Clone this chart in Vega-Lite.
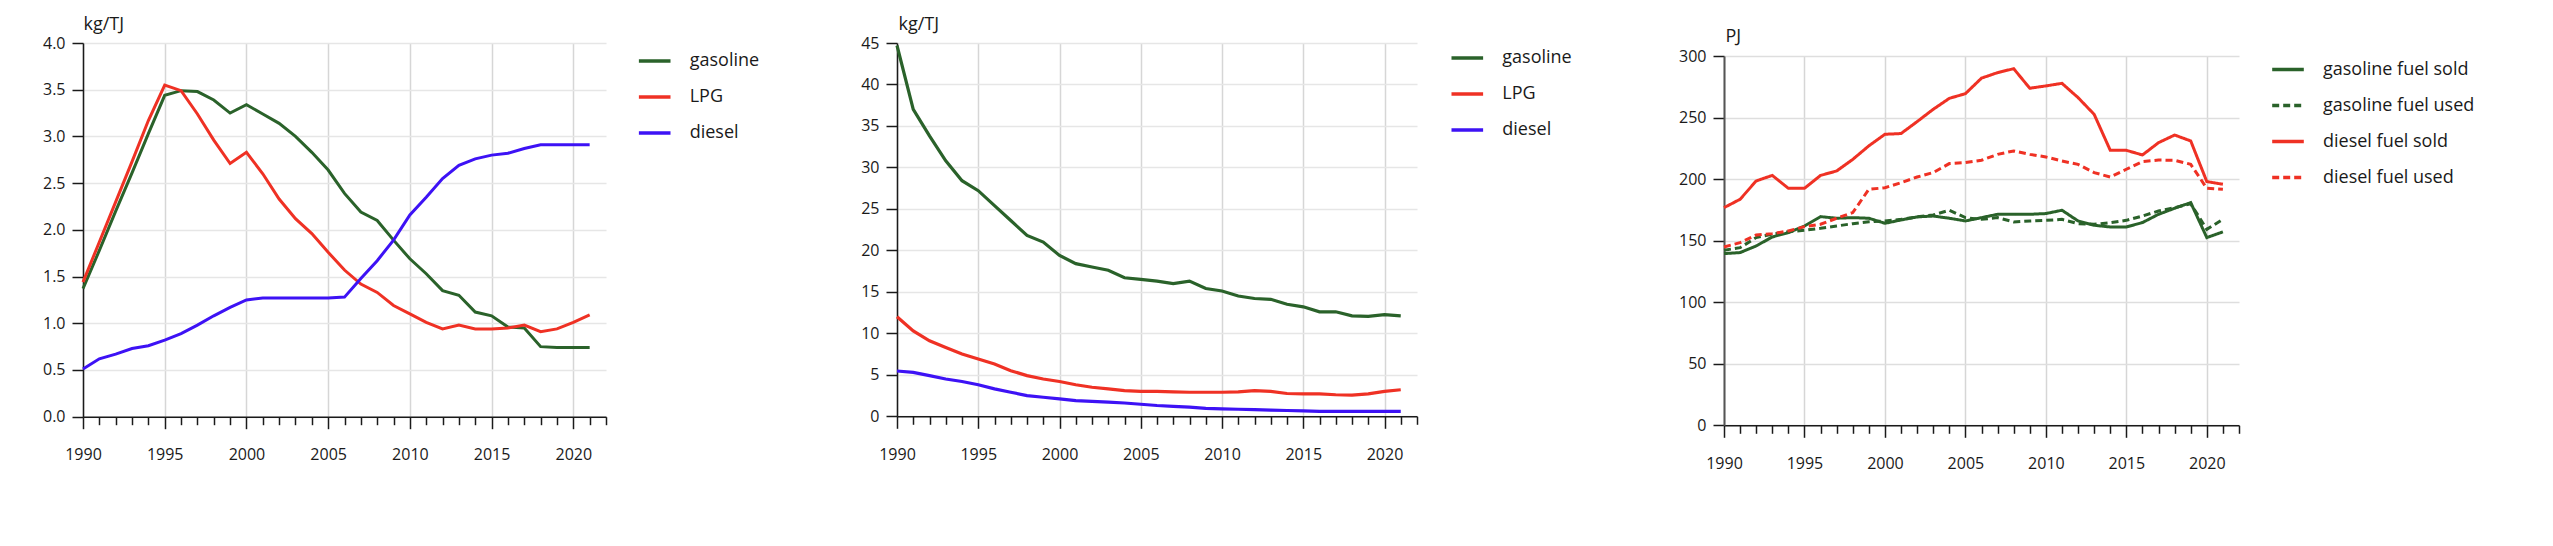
{
"$schema": "https://vega.github.io/schema/vega-lite/v6.json",
"background": "white",
"padding": {"left": 42, "top": 15, "right": 5, "bottom": 5},
"spacing": 0,
"bounds": "flush",
"resolve": {"scale": {"color": "independent", "strokeDash": "independent"}, "legend": {"color": "independent", "strokeDash": "independent"}},
"config": {
  "font": "Open Sans",
  "view": {"stroke": null},
  "axis": {"labelFont": "Open Sans", "labelFontSize": 16, "labelColor": "#1a1a1a", "titleFont": "Open Sans", "titleFontSize": 18, "titleFontWeight": "normal", "titleColor": "#1a1a1a", "domainColor": "#1a1a1a", "domainWidth": 1.5, "tickColor": "#1a1a1a", "tickWidth": 1.5},
  "legend": {"labelFont": "Open Sans", "labelFontSize": 18, "labelColor": "#1a1a1a", "symbolType": "stroke", "symbolSize": 1000, "symbolStrokeWidth": 3.5, "labelOffset": 17, "rowPadding": 9, "padding": 0, "orient": "none", "title": null}
},
"datasets": {
"p1": [
{"year":1990,"fuel":"gasoline","value":1.37},{"year":1991,"fuel":"gasoline","value":1.78},{"year":1992,"fuel":"gasoline","value":2.2},{"year":1993,"fuel":"gasoline","value":2.61},{"year":1994,"fuel":"gasoline","value":3.03},{"year":1995,"fuel":"gasoline","value":3.44},{"year":1996,"fuel":"gasoline","value":3.49},{"year":1997,"fuel":"gasoline","value":3.48},{"year":1998,"fuel":"gasoline","value":3.39},{"year":1999,"fuel":"gasoline","value":3.25},{"year":2000,"fuel":"gasoline","value":3.34},{"year":2001,"fuel":"gasoline","value":3.24},{"year":2002,"fuel":"gasoline","value":3.14},{"year":2003,"fuel":"gasoline","value":3.0},{"year":2004,"fuel":"gasoline","value":2.83},{"year":2005,"fuel":"gasoline","value":2.64},{"year":2006,"fuel":"gasoline","value":2.39},{"year":2007,"fuel":"gasoline","value":2.19},{"year":2008,"fuel":"gasoline","value":2.1},{"year":2009,"fuel":"gasoline","value":1.89},{"year":2010,"fuel":"gasoline","value":1.69},{"year":2011,"fuel":"gasoline","value":1.53},{"year":2012,"fuel":"gasoline","value":1.35},{"year":2013,"fuel":"gasoline","value":1.3},{"year":2014,"fuel":"gasoline","value":1.12},{"year":2015,"fuel":"gasoline","value":1.08},{"year":2016,"fuel":"gasoline","value":0.96},{"year":2017,"fuel":"gasoline","value":0.95},{"year":2018,"fuel":"gasoline","value":0.75},{"year":2019,"fuel":"gasoline","value":0.74},{"year":2020,"fuel":"gasoline","value":0.74},{"year":2021,"fuel":"gasoline","value":0.74},
{"year":1990,"fuel":"LPG","value":1.44},{"year":1991,"fuel":"LPG","value":1.87},{"year":1992,"fuel":"LPG","value":2.3},{"year":1993,"fuel":"LPG","value":2.73},{"year":1994,"fuel":"LPG","value":3.17},{"year":1995,"fuel":"LPG","value":3.55},{"year":1996,"fuel":"LPG","value":3.49},{"year":1997,"fuel":"LPG","value":3.24},{"year":1998,"fuel":"LPG","value":2.96},{"year":1999,"fuel":"LPG","value":2.71},{"year":2000,"fuel":"LPG","value":2.83},{"year":2001,"fuel":"LPG","value":2.6},{"year":2002,"fuel":"LPG","value":2.33},{"year":2003,"fuel":"LPG","value":2.12},{"year":2004,"fuel":"LPG","value":1.96},{"year":2005,"fuel":"LPG","value":1.76},{"year":2006,"fuel":"LPG","value":1.57},{"year":2007,"fuel":"LPG","value":1.42},{"year":2008,"fuel":"LPG","value":1.33},{"year":2009,"fuel":"LPG","value":1.19},{"year":2010,"fuel":"LPG","value":1.1},{"year":2011,"fuel":"LPG","value":1.01},{"year":2012,"fuel":"LPG","value":0.94},{"year":2013,"fuel":"LPG","value":0.98},{"year":2014,"fuel":"LPG","value":0.94},{"year":2015,"fuel":"LPG","value":0.94},{"year":2016,"fuel":"LPG","value":0.95},{"year":2017,"fuel":"LPG","value":0.98},{"year":2018,"fuel":"LPG","value":0.91},{"year":2019,"fuel":"LPG","value":0.94},{"year":2020,"fuel":"LPG","value":1.01},{"year":2021,"fuel":"LPG","value":1.09},
{"year":1990,"fuel":"diesel","value":0.51},{"year":1991,"fuel":"diesel","value":0.62},{"year":1992,"fuel":"diesel","value":0.67},{"year":1993,"fuel":"diesel","value":0.73},{"year":1994,"fuel":"diesel","value":0.76},{"year":1995,"fuel":"diesel","value":0.82},{"year":1996,"fuel":"diesel","value":0.89},{"year":1997,"fuel":"diesel","value":0.98},{"year":1998,"fuel":"diesel","value":1.08},{"year":1999,"fuel":"diesel","value":1.17},{"year":2000,"fuel":"diesel","value":1.25},{"year":2001,"fuel":"diesel","value":1.27},{"year":2002,"fuel":"diesel","value":1.27},{"year":2003,"fuel":"diesel","value":1.27},{"year":2004,"fuel":"diesel","value":1.27},{"year":2005,"fuel":"diesel","value":1.27},{"year":2006,"fuel":"diesel","value":1.28},{"year":2007,"fuel":"diesel","value":1.48},{"year":2008,"fuel":"diesel","value":1.67},{"year":2009,"fuel":"diesel","value":1.89},{"year":2010,"fuel":"diesel","value":2.16},{"year":2011,"fuel":"diesel","value":2.35},{"year":2012,"fuel":"diesel","value":2.55},{"year":2013,"fuel":"diesel","value":2.69},{"year":2014,"fuel":"diesel","value":2.76},{"year":2015,"fuel":"diesel","value":2.8},{"year":2016,"fuel":"diesel","value":2.82},{"year":2017,"fuel":"diesel","value":2.87},{"year":2018,"fuel":"diesel","value":2.91},{"year":2019,"fuel":"diesel","value":2.91},{"year":2020,"fuel":"diesel","value":2.91},{"year":2021,"fuel":"diesel","value":2.91}
],
"p2": [
{"year":1990,"fuel":"gasoline","value":44.7},{"year":1991,"fuel":"gasoline","value":37.0},{"year":1992,"fuel":"gasoline","value":33.8},{"year":1993,"fuel":"gasoline","value":30.8},{"year":1994,"fuel":"gasoline","value":28.4},{"year":1995,"fuel":"gasoline","value":27.2},{"year":1996,"fuel":"gasoline","value":25.4},{"year":1997,"fuel":"gasoline","value":23.6},{"year":1998,"fuel":"gasoline","value":21.8},{"year":1999,"fuel":"gasoline","value":21.0},{"year":2000,"fuel":"gasoline","value":19.4},{"year":2001,"fuel":"gasoline","value":18.4},{"year":2002,"fuel":"gasoline","value":18.0},{"year":2003,"fuel":"gasoline","value":17.6},{"year":2004,"fuel":"gasoline","value":16.7},{"year":2005,"fuel":"gasoline","value":16.5},{"year":2006,"fuel":"gasoline","value":16.3},{"year":2007,"fuel":"gasoline","value":16.0},{"year":2008,"fuel":"gasoline","value":16.3},{"year":2009,"fuel":"gasoline","value":15.4},{"year":2010,"fuel":"gasoline","value":15.1},{"year":2011,"fuel":"gasoline","value":14.5},{"year":2012,"fuel":"gasoline","value":14.2},{"year":2013,"fuel":"gasoline","value":14.1},{"year":2014,"fuel":"gasoline","value":13.5},{"year":2015,"fuel":"gasoline","value":13.2},{"year":2016,"fuel":"gasoline","value":12.6},{"year":2017,"fuel":"gasoline","value":12.6},{"year":2018,"fuel":"gasoline","value":12.1},{"year":2019,"fuel":"gasoline","value":12.05},{"year":2020,"fuel":"gasoline","value":12.25},{"year":2021,"fuel":"gasoline","value":12.1},
{"year":1990,"fuel":"LPG","value":12.0},{"year":1991,"fuel":"LPG","value":10.3},{"year":1992,"fuel":"LPG","value":9.1},{"year":1993,"fuel":"LPG","value":8.3},{"year":1994,"fuel":"LPG","value":7.5},{"year":1995,"fuel":"LPG","value":6.9},{"year":1996,"fuel":"LPG","value":6.3},{"year":1997,"fuel":"LPG","value":5.5},{"year":1998,"fuel":"LPG","value":4.9},{"year":1999,"fuel":"LPG","value":4.5},{"year":2000,"fuel":"LPG","value":4.2},{"year":2001,"fuel":"LPG","value":3.8},{"year":2002,"fuel":"LPG","value":3.5},{"year":2003,"fuel":"LPG","value":3.3},{"year":2004,"fuel":"LPG","value":3.1},{"year":2005,"fuel":"LPG","value":3.0},{"year":2006,"fuel":"LPG","value":3.0},{"year":2007,"fuel":"LPG","value":2.95},{"year":2008,"fuel":"LPG","value":2.9},{"year":2009,"fuel":"LPG","value":2.9},{"year":2010,"fuel":"LPG","value":2.9},{"year":2011,"fuel":"LPG","value":2.95},{"year":2012,"fuel":"LPG","value":3.1},{"year":2013,"fuel":"LPG","value":3.0},{"year":2014,"fuel":"LPG","value":2.75},{"year":2015,"fuel":"LPG","value":2.7},{"year":2016,"fuel":"LPG","value":2.7},{"year":2017,"fuel":"LPG","value":2.6},{"year":2018,"fuel":"LPG","value":2.55},{"year":2019,"fuel":"LPG","value":2.7},{"year":2020,"fuel":"LPG","value":3.0},{"year":2021,"fuel":"LPG","value":3.2},
{"year":1990,"fuel":"diesel","value":5.46},{"year":1991,"fuel":"diesel","value":5.3},{"year":1992,"fuel":"diesel","value":4.9},{"year":1993,"fuel":"diesel","value":4.5},{"year":1994,"fuel":"diesel","value":4.2},{"year":1995,"fuel":"diesel","value":3.8},{"year":1996,"fuel":"diesel","value":3.3},{"year":1997,"fuel":"diesel","value":2.9},{"year":1998,"fuel":"diesel","value":2.5},{"year":1999,"fuel":"diesel","value":2.3},{"year":2000,"fuel":"diesel","value":2.1},{"year":2001,"fuel":"diesel","value":1.9},{"year":2002,"fuel":"diesel","value":1.8},{"year":2003,"fuel":"diesel","value":1.7},{"year":2004,"fuel":"diesel","value":1.6},{"year":2005,"fuel":"diesel","value":1.45},{"year":2006,"fuel":"diesel","value":1.3},{"year":2007,"fuel":"diesel","value":1.2},{"year":2008,"fuel":"diesel","value":1.1},{"year":2009,"fuel":"diesel","value":0.95},{"year":2010,"fuel":"diesel","value":0.9},{"year":2011,"fuel":"diesel","value":0.85},{"year":2012,"fuel":"diesel","value":0.8},{"year":2013,"fuel":"diesel","value":0.75},{"year":2014,"fuel":"diesel","value":0.7},{"year":2015,"fuel":"diesel","value":0.65},{"year":2016,"fuel":"diesel","value":0.6},{"year":2017,"fuel":"diesel","value":0.6},{"year":2018,"fuel":"diesel","value":0.6},{"year":2019,"fuel":"diesel","value":0.6},{"year":2020,"fuel":"diesel","value":0.6},{"year":2021,"fuel":"diesel","value":0.6}
],
"p3": [
{"year":1990,"fuel":"gasoline fuel sold","value":139.5},{"year":1991,"fuel":"gasoline fuel sold","value":140.3},{"year":1992,"fuel":"gasoline fuel sold","value":145.7},{"year":1993,"fuel":"gasoline fuel sold","value":153},{"year":1994,"fuel":"gasoline fuel sold","value":156.5},{"year":1995,"fuel":"gasoline fuel sold","value":161.9},{"year":1996,"fuel":"gasoline fuel sold","value":169.5},{"year":1997,"fuel":"gasoline fuel sold","value":168.2},{"year":1998,"fuel":"gasoline fuel sold","value":168.7},{"year":1999,"fuel":"gasoline fuel sold","value":168.2},{"year":2000,"fuel":"gasoline fuel sold","value":164.1},{"year":2001,"fuel":"gasoline fuel sold","value":166.8},{"year":2002,"fuel":"gasoline fuel sold","value":169.3},{"year":2003,"fuel":"gasoline fuel sold","value":170},{"year":2004,"fuel":"gasoline fuel sold","value":168.2},{"year":2005,"fuel":"gasoline fuel sold","value":166},{"year":2006,"fuel":"gasoline fuel sold","value":168.7},{"year":2007,"fuel":"gasoline fuel sold","value":171.4},{"year":2008,"fuel":"gasoline fuel sold","value":171.4},{"year":2009,"fuel":"gasoline fuel sold","value":171.4},{"year":2010,"fuel":"gasoline fuel sold","value":172},{"year":2011,"fuel":"gasoline fuel sold","value":174.7},{"year":2012,"fuel":"gasoline fuel sold","value":166},{"year":2013,"fuel":"gasoline fuel sold","value":162.5},{"year":2014,"fuel":"gasoline fuel sold","value":161.1},{"year":2015,"fuel":"gasoline fuel sold","value":161.1},{"year":2016,"fuel":"gasoline fuel sold","value":164.7},{"year":2017,"fuel":"gasoline fuel sold","value":171.4},{"year":2018,"fuel":"gasoline fuel sold","value":176.3},{"year":2019,"fuel":"gasoline fuel sold","value":180.9},{"year":2020,"fuel":"gasoline fuel sold","value":152.5},{"year":2021,"fuel":"gasoline fuel sold","value":157.1},
{"year":1990,"fuel":"gasoline fuel used","value":142.2},{"year":1991,"fuel":"gasoline fuel used","value":144.3},{"year":1992,"fuel":"gasoline fuel used","value":152.5},{"year":1993,"fuel":"gasoline fuel used","value":155.2},{"year":1994,"fuel":"gasoline fuel used","value":157.3},{"year":1995,"fuel":"gasoline fuel used","value":158.4},{"year":1996,"fuel":"gasoline fuel used","value":160},{"year":1997,"fuel":"gasoline fuel used","value":161.9},{"year":1998,"fuel":"gasoline fuel used","value":163.8},{"year":1999,"fuel":"gasoline fuel used","value":165.4},{"year":2000,"fuel":"gasoline fuel used","value":166},{"year":2001,"fuel":"gasoline fuel used","value":167.3},{"year":2002,"fuel":"gasoline fuel used","value":169.3},{"year":2003,"fuel":"gasoline fuel used","value":170.9},{"year":2004,"fuel":"gasoline fuel used","value":174.7},{"year":2005,"fuel":"gasoline fuel used","value":168.7},{"year":2006,"fuel":"gasoline fuel used","value":167.3},{"year":2007,"fuel":"gasoline fuel used","value":168.7},{"year":2008,"fuel":"gasoline fuel used","value":165.2},{"year":2009,"fuel":"gasoline fuel used","value":166},{"year":2010,"fuel":"gasoline fuel used","value":166.5},{"year":2011,"fuel":"gasoline fuel used","value":167.3},{"year":2012,"fuel":"gasoline fuel used","value":163.8},{"year":2013,"fuel":"gasoline fuel used","value":163.3},{"year":2014,"fuel":"gasoline fuel used","value":164.6},{"year":2015,"fuel":"gasoline fuel used","value":166.5},{"year":2016,"fuel":"gasoline fuel used","value":170},{"year":2017,"fuel":"gasoline fuel used","value":174.1},{"year":2018,"fuel":"gasoline fuel used","value":176.8},{"year":2019,"fuel":"gasoline fuel used","value":180},{"year":2020,"fuel":"gasoline fuel used","value":159.2},{"year":2021,"fuel":"gasoline fuel used","value":167.3},
{"year":1990,"fuel":"diesel fuel sold","value":176.8},{"year":1991,"fuel":"diesel fuel sold","value":183.6},{"year":1992,"fuel":"diesel fuel sold","value":198.5},{"year":1993,"fuel":"diesel fuel sold","value":203},{"year":1994,"fuel":"diesel fuel sold","value":192.5},{"year":1995,"fuel":"diesel fuel sold","value":192.5},{"year":1996,"fuel":"diesel fuel sold","value":203},{"year":1997,"fuel":"diesel fuel sold","value":206.6},{"year":1998,"fuel":"diesel fuel sold","value":216},{"year":1999,"fuel":"diesel fuel sold","value":227},{"year":2000,"fuel":"diesel fuel sold","value":236.4},{"year":2001,"fuel":"diesel fuel sold","value":237},{"year":2002,"fuel":"diesel fuel sold","value":246.7},{"year":2003,"fuel":"diesel fuel sold","value":256.7},{"year":2004,"fuel":"diesel fuel sold","value":265.6},{"year":2005,"fuel":"diesel fuel sold","value":269.4},{"year":2006,"fuel":"diesel fuel sold","value":282},{"year":2007,"fuel":"diesel fuel sold","value":286.5},{"year":2008,"fuel":"diesel fuel sold","value":289.7},{"year":2009,"fuel":"diesel fuel sold","value":273.8},{"year":2010,"fuel":"diesel fuel sold","value":275.7},{"year":2011,"fuel":"diesel fuel sold","value":277.8},{"year":2012,"fuel":"diesel fuel sold","value":266.2},{"year":2013,"fuel":"diesel fuel sold","value":252.6},{"year":2014,"fuel":"diesel fuel sold","value":223.4},{"year":2015,"fuel":"diesel fuel sold","value":223.4},{"year":2016,"fuel":"diesel fuel sold","value":219.6},{"year":2017,"fuel":"diesel fuel sold","value":229.6},{"year":2018,"fuel":"diesel fuel sold","value":235.8},{"year":2019,"fuel":"diesel fuel sold","value":231},{"year":2020,"fuel":"diesel fuel sold","value":198},{"year":2021,"fuel":"diesel fuel sold","value":195.8},
{"year":1990,"fuel":"diesel fuel used","value":144.9},{"year":1991,"fuel":"diesel fuel used","value":148.4},{"year":1992,"fuel":"diesel fuel used","value":154.6},{"year":1993,"fuel":"diesel fuel used","value":155.7},{"year":1994,"fuel":"diesel fuel used","value":157.9},{"year":1995,"fuel":"diesel fuel used","value":161.4},{"year":1996,"fuel":"diesel fuel used","value":163.3},{"year":1997,"fuel":"diesel fuel used","value":168.2},{"year":1998,"fuel":"diesel fuel used","value":172.8},{"year":1999,"fuel":"diesel fuel used","value":191.7},{"year":2000,"fuel":"diesel fuel used","value":193},{"year":2001,"fuel":"diesel fuel used","value":197.1},{"year":2002,"fuel":"diesel fuel used","value":201.7},{"year":2003,"fuel":"diesel fuel used","value":205.3},{"year":2004,"fuel":"diesel fuel used","value":212.6},{"year":2005,"fuel":"diesel fuel used","value":213.4},{"year":2006,"fuel":"diesel fuel used","value":215.3},{"year":2007,"fuel":"diesel fuel used","value":220.1},{"year":2008,"fuel":"diesel fuel used","value":222.9},{"year":2009,"fuel":"diesel fuel used","value":220.1},{"year":2010,"fuel":"diesel fuel used","value":218},{"year":2011,"fuel":"diesel fuel used","value":214.7},{"year":2012,"fuel":"diesel fuel used","value":212},{"year":2013,"fuel":"diesel fuel used","value":205.3},{"year":2014,"fuel":"diesel fuel used","value":201.7},{"year":2015,"fuel":"diesel fuel used","value":208},{"year":2016,"fuel":"diesel fuel used","value":214.2},{"year":2017,"fuel":"diesel fuel used","value":215.5},{"year":2018,"fuel":"diesel fuel used","value":215.3},{"year":2019,"fuel":"diesel fuel used","value":212},{"year":2020,"fuel":"diesel fuel used","value":192.5},{"year":2021,"fuel":"diesel fuel used","value":191.7}
]
},
"hconcat": [
{
  "width": 523, "height": 373.7,
  "data": {"name": "p1"},
  "mark": {"type": "line", "strokeWidth": 3},
  "encoding": {
    "x": {"field": "year", "type": "quantitative", "scale": {"domain": [1990, 2022], "nice": false, "zero": false},
      "axis": {"title": null, "values": [1990,1991,1992,1993,1994,1995,1996,1997,1998,1999,2000,2001,2002,2003,2004,2005,2006,2007,2008,2009,2010,2011,2012,2013,2014,2015,2016,2017,2018,2019,2020,2021,2022], "format": "d", "labelExpr": "datum.value % 5 === 0 ? datum.label : ''", "labelFlush": false, "labelPadding": 18, "grid": true, "gridColor": "#d6d6d6", "gridWidth": 1.5, "gridOpacity": {"condition": {"test": "datum.value % 5 === 0", "value": 1}, "value": 0}, "tickSize": {"condition": {"test": "datum.value % 5 === 0", "value": 12}, "value": 8}}},
    "y": {"field": "value", "type": "quantitative", "scale": {"domain": [0, 4], "nice": false},
      "axis": {"values": [0,0.5,1,1.5,2,2.5,3,3.5,4], "format": ".1f", "title": "kg/TJ", "titleAngle": 0, "titleAlign": "left", "titleBaseline": "alphabetic", "titleX": 0, "titleY": -14, "grid": true, "gridColor": "#e6e6e6", "gridWidth": 1.5, "tickSize": 11, "labelPadding": 7}},
    "color": {"field": "fuel", "type": "nominal", "scale": {"domain": ["gasoline", "LPG", "diesel"], "range": ["#2a622a", "#ef3124", "#3d12f5"]},
      "legend": {"legendX": 553.7, "legendY": 0}}
  }
},
{"width": 290.4, "height": 1, "data": {"values": []}, "mark": {"type": "point", "opacity": 0}, "encoding": {}},
{
  "width": 520, "height": 373.3,
  "data": {"name": "p2"},
  "mark": {"type": "line", "strokeWidth": 3.2},
  "encoding": {
    "x": {"field": "year", "type": "quantitative", "scale": {"domain": [1990, 2022], "nice": false, "zero": false},
      "axis": {"title": null, "values": [1990,1991,1992,1993,1994,1995,1996,1997,1998,1999,2000,2001,2002,2003,2004,2005,2006,2007,2008,2009,2010,2011,2012,2013,2014,2015,2016,2017,2018,2019,2020,2021,2022], "format": "d", "labelExpr": "datum.value % 5 === 0 ? datum.label : ''", "labelFlush": false, "labelPadding": 18, "grid": true, "gridColor": "#d6d6d6", "gridWidth": 1.5, "gridOpacity": {"condition": {"test": "datum.value % 5 === 0", "value": 1}, "value": 0}, "tickSize": {"condition": {"test": "datum.value % 5 === 0", "value": 12}, "value": 8}}},
    "y": {"field": "value", "type": "quantitative", "scale": {"domain": [0, 45], "nice": false},
      "axis": {"values": [0,5,10,15,20,25,30,35,40,45], "title": "kg/TJ", "titleAngle": 0, "titleAlign": "left", "titleBaseline": "alphabetic", "titleX": 1, "titleY": -14, "grid": true, "gridColor": "#e6e6e6", "gridWidth": 1.5, "tickSize": 11, "labelPadding": 7}},
    "color": {"field": "fuel", "type": "nominal", "scale": {"domain": ["gasoline", "LPG", "diesel"], "range": ["#2a622a", "#ef3124", "#3d12f5"]},
      "legend": {"legendX": 552.3, "legendY": -3}}
  }
},
{"width": 306.3, "height": 1, "data": {"values": []}, "mark": {"type": "point", "opacity": 0}, "encoding": {}},
{
  "vconcat": [
    {"width": 1, "height": 12.7, "data": {"values": []}, "mark": {"type": "point", "opacity": 0}, "encoding": {}},
    {
      "width": 515, "height": 369.3,
      "data": {"name": "p3"},
      "mark": {"type": "line", "strokeWidth": 3},
      "encoding": {
        "x": {"field": "year", "type": "quantitative", "scale": {"domain": [1990, 2022], "nice": false, "zero": false},
          "axis": {"title": null, "values": [1990,1991,1992,1993,1994,1995,1996,1997,1998,1999,2000,2001,2002,2003,2004,2005,2006,2007,2008,2009,2010,2011,2012,2013,2014,2015,2016,2017,2018,2019,2020,2021,2022], "format": "d", "labelExpr": "datum.value % 5 === 0 ? datum.label : ''", "labelFlush": false, "labelPadding": 18, "grid": true, "gridColor": "#d6d6d6", "gridWidth": 1.5, "gridOpacity": {"condition": {"test": "datum.value % 5 === 0", "value": 1}, "value": 0}, "tickSize": {"condition": {"test": "datum.value % 5 === 0", "value": 12}, "value": 8}}},
        "y": {"field": "value", "type": "quantitative", "scale": {"domain": [0, 300], "nice": false},
          "axis": {"values": [0,50,100,150,200,250,300], "title": "PJ", "titleAngle": 0, "titleAlign": "left", "titleBaseline": "alphabetic", "titleX": 1, "titleY": -15, "grid": true, "gridColor": "#dedede", "gridWidth": 1.5, "tickSize": 11, "labelPadding": 7, "domainColor": "#555555", "domainWidth": 2}},
        "color": {"field": "fuel", "type": "nominal", "scale": {"domain": ["gasoline fuel sold", "gasoline fuel used", "diesel fuel sold", "diesel fuel used"], "range": ["#2a622a", "#2a622a", "#ef3124", "#ef3124"]},
          "legend": {"legendX": 546, "legendY": 8.5}},
        "strokeDash": {"field": "fuel", "type": "nominal", "scale": {"domain": ["gasoline fuel sold", "gasoline fuel used", "diesel fuel sold", "diesel fuel used"], "range": [[1, 0], [7, 4], [1, 0], [7, 4]]},
          "legend": {"legendX": 546, "legendY": 8.5}}
      }
    }
  ],
  "spacing": 0,
  "bounds": "flush"
}
]
}
